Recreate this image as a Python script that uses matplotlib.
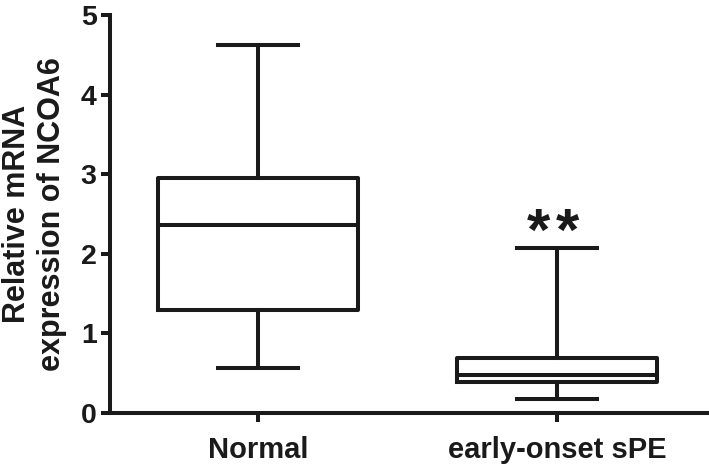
import matplotlib
matplotlib.use("Agg")
import matplotlib.pyplot as plt

categories = ["Normal", "early-onset sPE"]
whislo = [0.57, 0.18]
q1 = [1.29, 0.39]
med = [2.36, 0.48]
q3 = [2.95, 0.69]
whishi = [4.62, 2.07]
sig_stars = [0, 2]
yticks = [0, 1, 2, 3, 4, 5]

plt.rcParams['font.family'] = ['Liberation Sans', 'DejaVu Sans']
plt.rcParams['font.weight'] = 'bold'

fig = plt.figure(figsize=(7.09, 4.66), dpi=100)
ax = fig.add_axes([0.155, 0.1137, 0.845, 0.854])

lw = 2.9
col = '#1a1a1a'
stats = []
for i, c in enumerate(categories):
    stats.append(dict(label=c, whislo=whislo[i], q1=q1[i], med=med[i], q3=q3[i], whishi=whishi[i], fliers=[]))

ax.bxp(stats, positions=[1, 2], widths=0.67, showfliers=False,
       boxprops=dict(color=col, linewidth=lw),
       medianprops=dict(color=col, linewidth=lw),
       whiskerprops=dict(color=col, linewidth=lw),
       capprops=dict(color=col, linewidth=lw),
       capwidths=0.27)

for i, n in enumerate(sig_stars):
    for k in range(n):
        dx = (k - (n - 1) / 2) * 21 - 3
        ax.annotate("*", xy=(i + 1, whishi[i] - 0.17), xytext=(dx, 0), textcoords='offset points',
                    ha='center', va='bottom', fontsize=43, fontweight='bold', color=col)

ax.set_xlim(0.505, 2.508)
ax.set_ylim(0, 5)
ax.set_yticks(yticks)
ax.set_xticks([1, 2])
ax.set_xticklabels(categories, fontsize=21, fontweight='bold')
ax.set_yticklabels([str(t) for t in yticks], fontsize=20.5, fontweight='bold')
for sp in ['top', 'right']:
    ax.spines[sp].set_visible(False)
for sp in ['left', 'bottom']:
    ax.spines[sp].set_linewidth(lw)
    ax.spines[sp].set_color(col)
ax.tick_params(axis='both', width=lw, length=6.5, color=col, labelcolor=col)
ax.tick_params(axis='x', pad=10)
ax.tick_params(axis='y', pad=3)
ax.set_ylabel("Relative mRNA\nexpression of NCOA6", fontsize=22, fontweight='bold', color=col, linespacing=1.2, labelpad=10)

fig.savefig("out.png", dpi=100)
